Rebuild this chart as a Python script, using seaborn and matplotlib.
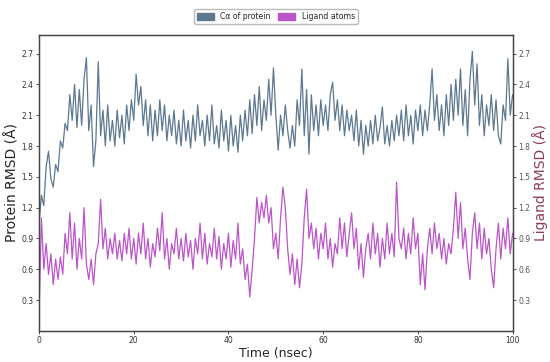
import numpy as np
import pandas as pd
import matplotlib
matplotlib.use("Agg")
import matplotlib.pyplot as plt
import matplotlib.patches as mpatches
import seaborn as sns

# simulation time, 0.5 ns steps
time_ns = np.arange(0, 100.5, 0.5)

protein_rmsd = [
    1.05, 1.32, 1.22, 1.60, 1.75, 1.48, 1.40, 1.62, 1.55, 1.85,
    1.78, 2.02, 1.95, 2.30, 2.05, 2.40, 1.98, 2.35, 2.00, 2.45,
    2.66, 1.95, 2.20, 1.60, 1.85, 2.62, 1.90, 2.15, 1.80, 2.20,
    1.85, 2.05, 1.80, 2.15, 1.88, 2.10, 1.82, 2.20, 1.95, 2.25,
    2.05, 2.50, 2.20, 2.38, 2.00, 2.25, 1.90, 2.20, 1.85, 2.15,
    1.90, 2.25, 1.95, 2.20, 1.85, 2.10, 1.90, 2.15, 1.82, 2.05,
    1.80, 2.15, 1.85, 2.05, 1.78, 2.10, 1.85, 2.20, 1.90, 2.05,
    1.80, 2.10, 1.85, 2.20, 1.82, 2.00, 1.78, 2.15, 1.85, 2.05,
    1.75, 2.10, 1.80, 2.00, 1.74, 2.10, 1.85, 2.15, 1.90, 2.25,
    1.92, 2.30, 2.00, 2.38, 1.95, 2.25, 2.05, 2.45, 2.10, 2.56,
    2.10, 1.76, 2.10, 1.90, 2.20, 1.95, 1.78, 2.00, 1.80, 2.25,
    2.00, 2.55, 1.90, 2.35, 1.72, 2.30, 1.95, 2.20, 1.90, 2.25,
    2.00, 2.20, 1.95, 2.30, 2.42, 2.05, 2.25, 1.95, 2.20, 1.90,
    2.15, 1.95, 2.10, 1.85, 2.15, 1.80, 2.05, 1.72, 2.00, 1.80,
    2.05, 1.82, 2.10, 1.85, 1.98, 2.18, 1.82, 2.00, 1.80, 2.05,
    1.85, 2.10, 1.90, 2.15, 1.85, 2.20, 1.90, 2.10, 1.82, 2.15,
    1.95, 2.20, 1.90, 2.15, 1.95, 2.20, 2.55, 2.05, 2.30, 1.95,
    2.20, 1.90, 2.30, 2.00, 2.40, 2.05, 2.45, 2.10, 2.55, 2.00,
    2.35, 1.90, 2.45, 2.72, 2.20, 2.60, 2.00, 2.30, 1.90, 2.20,
    2.00, 2.30, 1.95, 2.25, 1.90, 1.82, 2.20, 2.05, 2.65, 2.10,
    2.30,
]

ligand_rmsd = [
    0.15, 1.10, 0.60, 0.85, 0.55, 0.75, 0.45, 0.70, 0.50, 0.72,
    0.55, 0.95, 0.75, 1.15, 0.70, 1.05, 0.60, 0.90, 0.70, 1.20,
    0.65, 0.50, 0.70, 0.45, 0.75, 0.85, 1.28, 0.80, 1.00, 0.70,
    0.90, 0.75, 0.95, 0.70, 0.88, 0.68, 0.95, 0.75, 1.00, 0.70,
    0.90, 0.65, 0.95, 0.75, 1.05, 0.70, 0.90, 0.62, 0.85, 0.72,
    1.00, 0.78, 1.15, 0.70, 0.90, 0.60, 0.85, 0.75, 1.00, 0.70,
    0.90, 0.68, 0.95, 0.72, 0.88, 0.60, 0.90, 0.75, 1.05, 0.70,
    0.95, 0.65, 0.85, 0.72, 1.00, 0.70, 0.92, 0.60, 0.85, 0.70,
    0.95, 0.62, 0.88, 0.70, 1.05, 0.65, 0.80, 0.50, 0.65, 0.33,
    0.60, 0.90, 1.30, 1.05, 1.25, 1.10, 1.32, 1.05, 1.20, 0.80,
    0.95, 0.70, 1.10, 1.40, 1.20, 0.80, 0.55, 0.75, 0.45, 0.70,
    0.42, 0.65, 1.10, 1.38, 0.90, 1.05, 0.80, 1.00, 0.70, 0.95,
    0.80, 1.05, 0.70, 0.90, 0.62, 0.85, 0.75, 1.10, 0.80, 1.05,
    0.72, 0.95, 1.15, 0.80, 1.00, 0.60, 0.85, 0.52, 0.80, 0.95,
    0.70, 1.05, 0.75, 0.95, 0.62, 0.90, 0.70, 1.05, 0.75, 0.95,
    0.72, 1.45, 0.90, 0.80, 1.00, 0.70, 0.95, 0.75, 1.10, 0.80,
    0.95, 0.45, 0.75, 0.40, 0.80, 1.00, 0.75, 1.05, 0.80, 0.95,
    0.70, 0.90, 0.65, 0.85, 0.75, 1.00, 1.35, 0.90, 1.25, 0.80,
    1.00, 0.70, 0.50, 0.95, 1.15, 0.80, 1.05, 0.70, 1.00, 0.75,
    0.90, 0.60, 0.42, 0.80, 1.05, 0.70, 1.00, 0.80, 1.10, 0.75,
    0.95,
]

legend_labels = ["C\u03b1 of protein", "Ligand atoms"]
y_ticks = [0.3, 0.6, 0.9, 1.2, 1.5, 1.8, 2.1, 2.4, 2.7]

protein_color = "#5d7891"
ligand_color = "#bb55c9"

sns.set_style("ticks")
plt.rcParams['font.family'] = ['DejaVu Sans']

df = pd.DataFrame({'time': time_ns, 'protein': protein_rmsd, 'ligand': ligand_rmsd})

fig, ax = plt.subplots(figsize=(5.5, 3.62), dpi=100)
ax2 = ax.twinx()

sns.lineplot(data=df, x='time', y='ligand', ax=ax2, color=ligand_color, lw=0.9)
sns.lineplot(data=df, x='time', y='protein', ax=ax, color=protein_color, lw=0.9)

for a in (ax, ax2):
    a.set_xlim(0, 100)
    a.set_ylim(0, 2.88)
    a.set_yticks(y_ticks)
    a.tick_params(labelsize=5.5, length=2.5, width=0.6, pad=1.5, colors='#333333')
    for s in a.spines.values():
        s.set_color('#444444')
        s.set_linewidth(0.9)

ax.set_xticks([0, 20, 40, 60, 80, 100])
ax.set_xlabel("Time (nsec)", fontsize=9, labelpad=1)
ax.set_ylabel("Protein RMSD (\u00c5)", fontsize=10, labelpad=1.5)
ax2.set_ylabel("Ligand RMSD (\u00c5)", fontsize=10, color='#8e3a5c', labelpad=1)
ax2.tick_params(axis='y', labelcolor='#555555')

handles = [mpatches.Patch(color=protein_color, label=legend_labels[0]),
           mpatches.Patch(color=ligand_color, label=legend_labels[1])]
ax.legend(handles=handles, loc='lower center', bbox_to_anchor=(0.5, 1.025),
          ncol=2, fontsize=5.6, frameon=True, fancybox=True,
          handlelength=2.2, handleheight=0.9, columnspacing=1.0,
          borderpad=0.35, edgecolor='#aaaaaa')

fig.subplots_adjust(left=0.071, right=0.932, top=0.903, bottom=0.086)
fig.savefig("out.png", dpi=100)
